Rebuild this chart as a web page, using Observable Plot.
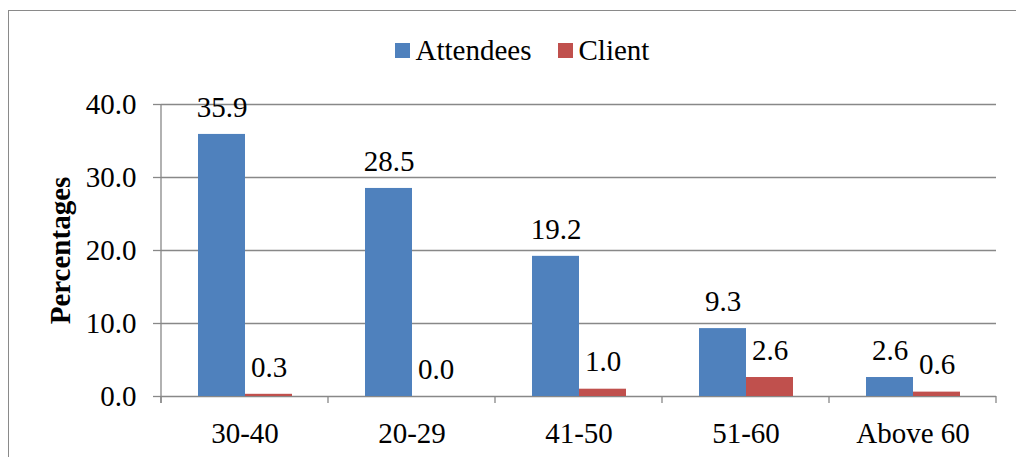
<!DOCTYPE html>
<html>
<head>
<meta charset="utf-8">
<script src="https://cdn.jsdelivr.net/npm/d3@7"></script>
<script src="https://cdn.jsdelivr.net/npm/@observablehq/plot@0.6"></script>
<style>
  html, body { margin: 0; padding: 0; background: #fff; }
  body {
    width: 1016px; height: 457px; overflow: hidden; position: relative;
    font-family: "Liberation Serif", "Times New Roman", serif;
  }
  #frame {
    position: absolute; left: 8px; top: 10px; width: 1100px; height: 600px;
    border-top: 1.5px solid #8a8a8a; border-left: 1.5px solid #8a8a8a;
    pointer-events: none;
  }
  #legend {
    position: relative; box-sizing: border-box;
    width: 1028px; margin-left: 8px; height: 80px; padding-top: 34px;
    display: flex; justify-content: center; align-items: flex-start;
    font-size: 29px; line-height: 32px; color: #000;
  }
  #legend .item { display: flex; align-items: center; }
  #legend .item + .item { margin-left: 26px; }
  #legend .swatch { width: 15px; height: 15px; margin-right: 6px; }
  #chart svg { display: block; }
</style>
</head>
<body>
<div id="frame"></div>
<div id="legend"></div>
<div id="chart"></div>
<script>
// Age groups of attendees and clients, in percent
const ageGroups = ["30-40", "20-29", "41-50", "51-60", "Above 60"];
const series = ["Attendees", "Client"];
const attendees = [35.9, 28.5, 19.2, 9.3, 2.6];
const client = [0.3, 0.0, 1.0, 2.6, 0.6];
const yTicks = [0, 10, 20, 30, 40];
const colors = ["#4F81BD", "#C0504D"];

const axisGray = "#888888";
const font = "'Liberation Serif', 'Times New Roman', serif";

const rows = ageGroups.flatMap((group, i) => [
  {group, series: series[0], value: attendees[i]},
  {group, series: series[1], value: client[i]}
]);

// Legend
const legend = d3.select("#legend");
series.forEach((name, i) => {
  const item = legend.append("div").attr("class", "item");
  item.append("div").attr("class", "swatch").style("background", colors[i]);
  item.append("span").text(name);
});

const chart = Plot.plot({
  width: 1016,
  height: 377,
  marginTop: 24,
  marginBottom: 61,
  marginLeft: 160,
  marginRight: 20,
  style: {fontFamily: font, fontSize: "29px", color: "#000", background: "transparent", overflow: "visible"},
  fx: {domain: ageGroups, padding: 0, axis: "bottom", tickSize: 0, tickPadding: 26, label: null},
  x: {domain: series, axis: null, paddingInner: 0, paddingOuter: 0.74},
  y: {domain: [0, 40], axis: null},
  color: {domain: series, range: colors},
  marks: [
    Plot.gridY(yTicks, {stroke: axisGray, strokeOpacity: 1, strokeWidth: 1.3}),
    Plot.axisY({
      ticks: yTicks, tickFormat: (d) => d.toFixed(1), tickSize: 8, tickPadding: 17,
      label: null, stroke: axisGray, strokeWidth: 1.3
    }),
    Plot.axisY({
      ticks: [], tickSize: 0, label: "Percentages", labelAnchor: "center",
      labelArrow: "none", labelOffset: 112, fontWeight: "bold"
    }),
    Plot.barY(rows, {fx: "group", x: "series", y: "value", fill: "series"}),
    Plot.text(rows, {
      fx: "group", x: "series", y: "value",
      text: (d) => d.value.toFixed(1), dy: -27, lineAnchor: "middle", fill: "#000"
    })
  ]
});

// Category boundary ticks below the baseline and the vertical value axis line
const fx = chart.scale("fx");
const y = chart.scale("y");
const edges = ageGroups.map((g) => fx.apply(g));
edges.push(fx.apply(ageGroups[ageGroups.length - 1]) + fx.bandwidth);
const y0 = y.apply(0);
const yTop = y.apply(40);
const axisLayer = d3.select(chart).append("g")
  .attr("stroke", axisGray).attr("stroke-width", 1.3);
axisLayer.selectAll("line.edge").data(edges).join("line")
  .attr("class", "edge")
  .attr("x1", (d) => d).attr("x2", (d) => d)
  .attr("y1", y0).attr("y2", y0 + 7);
axisLayer.append("line")
  .attr("x1", edges[0]).attr("x2", edges[0])
  .attr("y1", yTop).attr("y2", y0 + 7);

document.getElementById("chart").append(chart);
</script>
</body>
</html>
